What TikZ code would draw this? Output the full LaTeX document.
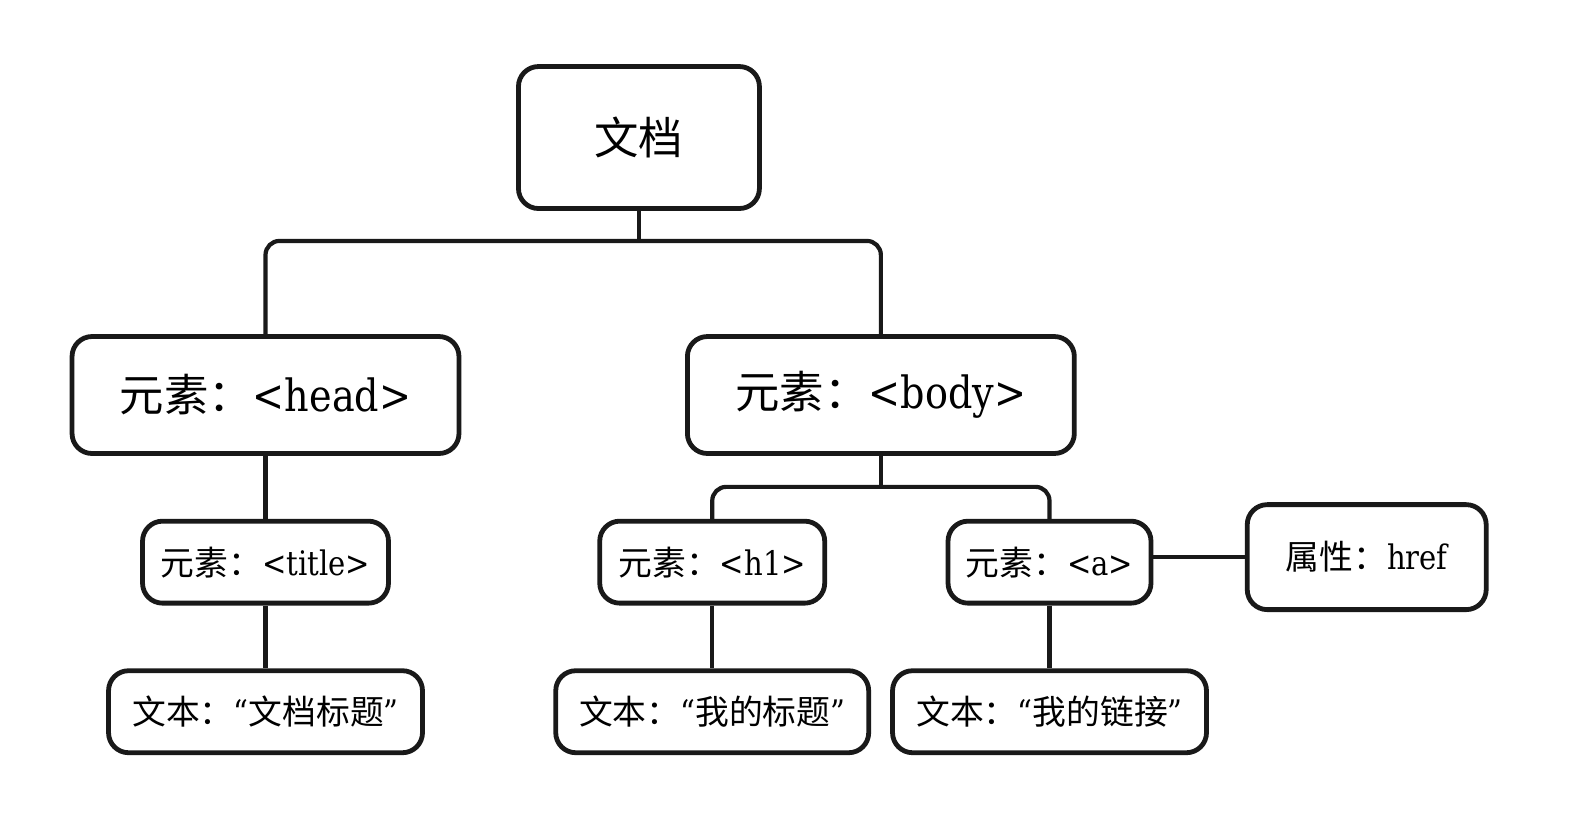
\documentclass[tikz,border=0pt]{standalone}
\usepackage{fontspec}
\setmainfont{DejaVu Serif}[FakeStretch=0.86]
\newfontfamily\cjk{Noto Sans CJK SC}
\newcommand{\zh}[1]{{\cjk #1}}
\begin{document}
\begin{tikzpicture}[x=0.502pt,y=-0.502pt,
  box/.style={draw=black!90,line width=2.4pt,rounded corners=10pt,fill=white,
    inner sep=0pt,anchor=center},
  big/.style={font=\fontsize{22.2}{25}\selectfont},
  small/.style={font=\fontsize{16.9}{20}\selectfont},
  conn/.style={draw=black!90,line width=2.1pt,rounded corners=7pt}]
\useasboundingbox[fill=white] (0,0) rectangle (1568,811);

% tree nodes
\node[box,big,minimum width=120.5pt,minimum height=71pt] (root) at (636.5,137) {\zh{文档}};
\node[box,big,minimum width=193.5pt,minimum height=58.5pt] (head) at (264.5,393.5) {\zh{元素：}<head>};
\node[box,big,minimum width=193.5pt,minimum height=58.5pt] (body) at (877.5,393.5) {\zh{元素：}<body>};
\node[box,small,minimum width=123pt,minimum height=41pt] (title) at (264.5,560) {\zh{元素：}<title>};
\node[box,small,minimum width=112.5pt,minimum height=41pt] (h1) at (709.5,560) {\zh{元素：}<h1>};
\node[box,small,minimum width=101.5pt,minimum height=41pt] (a) at (1045.5,560) {\zh{元素：}<a>};
\node[box,small,minimum width=119.5pt,minimum height=52.5pt] (href) at (1361.5,555) {\zh{属性：}href};
\node[box,small,minimum width=157pt,minimum height=41pt] (ttitle) at (264.5,709) {\zh{文本：}“\zh{文档标题}”};
\node[box,small,minimum width=156.5pt,minimum height=41pt] (th1) at (709.5,709) {\zh{文本：}“\zh{我的标题}”};
\node[box,small,minimum width=157pt,minimum height=41pt] (ta) at (1045.5,709) {\zh{文本：}“\zh{我的链接}”};

% junctions of the branching lines
\coordinate (rj) at (636.5,240);
\coordinate (bj) at (877.5,485);

% connectors
\draw[conn] (root.south) -- (rj);
\draw[conn] (head.north) |- (rj) -| (body.north);
\draw[conn] (head.south) -- (title.north);
\draw[conn] (title.south) -- (ttitle.north);
\draw[conn] (body.south) -- (bj);
\draw[conn] (h1.north) |- (bj) -| (a.north);
\draw[conn] (h1.south) -- (th1.north);
\draw[conn] (a.south) -- (ta.north);
\draw[conn] (href.west) -- (href.west -| a.east);
\end{tikzpicture}
\end{document}
